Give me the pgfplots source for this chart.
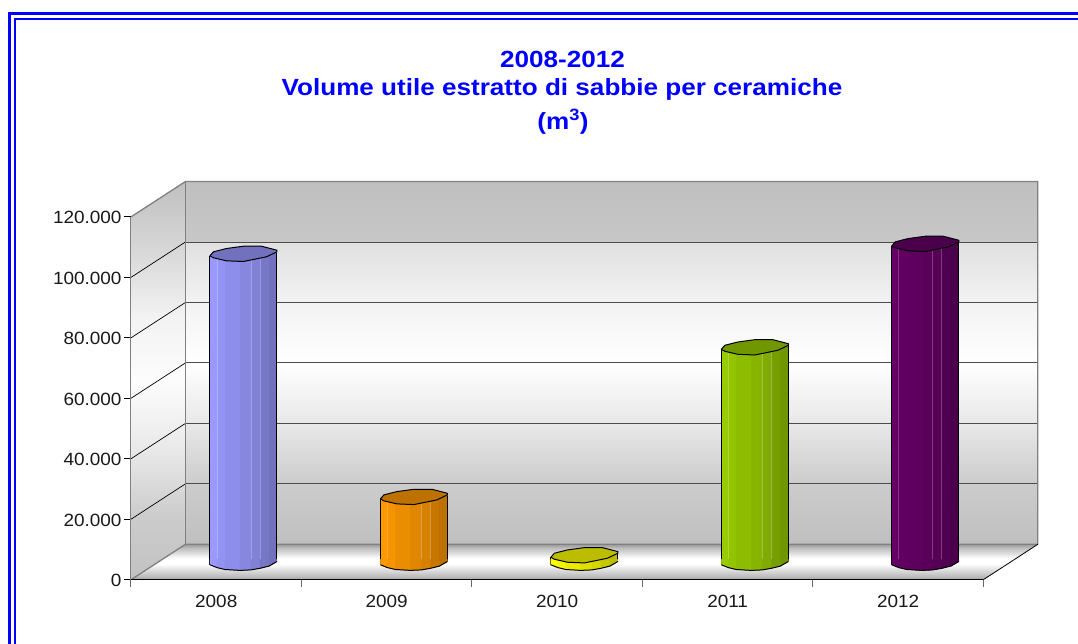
\documentclass[border=0pt]{standalone}
\usepackage{pgfplots}
\pgfplotsset{compat=1.18}
\usepackage{fontspec}
\setmainfont{Liberation Sans}
\newfontfamily\titlefont[FakeStretch=1.115]{Liberation Sans}
\newfontfamily\tickfont[FakeStretch=1.07]{Liberation Sans}
\definecolor{frameblue}{RGB}{0,0,255}
\definecolor{ca}{HTML}{9999FF}
\definecolor{cb}{HTML}{FF9900}
\definecolor{cc}{HTML}{FFFF00}
\definecolor{cd}{HTML}{99CC00}
\definecolor{ce}{HTML}{660066}
\pgfdeclareverticalshading{wallshade}{100bp}{%
 color(0bp)=(black!25); color(25bp)=(black!25); color(33.3bp)=(black!20);
 color(41.7bp)=(black!9); color(50bp)=(white); color(58.4bp)=(black!5);
 color(66.6bp)=(black!12); color(66.7bp)=(black!22); color(75bp)=(black!25); color(100bp)=(black!25)}
\pgfdeclareverticalshading{sideshade}{100bp}{%
 color(0bp)=(black!24); color(25bp)=(black!24); color(33bp)=(black!20);
 color(41bp)=(black!9); color(50bp)=(black!1); color(58bp)=(black!5);
 color(66bp)=(black!15); color(75bp)=(black!25); color(100bp)=(black!25)}
\pgfdeclareverticalshading{floorshade}{100bp}{%
 color(0bp)=(black!36); color(25bp)=(black!36); color(30bp)=(black!26); color(47.5bp)=(white); color(55bp)=(white);
 color(70bp)=(black!26); color(75bp)=(black!40); color(100bp)=(black!40)}
\newcommand{\capoutline}{(-33.5pt,-2.3pt) -- (-30pt,1.7pt) -- (-17pt,5pt) -- (0pt,7.3pt) -- (18pt,7.3pt) -- (33.5pt,3.3pt) -- (33.5pt,1.7pt) -- (23pt,-3.3pt) -- (0pt,-8pt) -- (-17pt,-7.3pt) -- (-30pt,-4.3pt) -- cycle}
\newcommand{\lowerhalf}{(-33.5pt,-2.3pt) -- (-26.5pt,-5.1pt) -- (-18.5pt,-7pt) -- (-3.5pt,-7.9pt) -- (7.5pt,-7.4pt) -- (16.5pt,-5.8pt) -- (25.5pt,-3.6pt) -- (33.5pt,1pt)}
\newcommand{\declcyl}[1]{%
 \pgfdeclareplotmark{captop#1}{\path[fill=#1!74!black,draw=black,line width=1pt,line join=round] \capoutline;}%
 \pgfdeclareplotmark{capbot#1}{%
  \fill[#1] (-33.5pt,-2.3pt) -- (-26.5pt,-5.1pt) -- (-26.2pt,-5.1pt) -- (-26.2pt,3pt) -- (-33.5pt,3pt) -- cycle;
  \fill[#1!96!black] (-26.5pt,-5.1pt) -- (-18.5pt,-7pt) -- (-18.2pt,-7pt) -- (-18.2pt,3pt) -- (-26.5pt,3pt) -- cycle;
  \fill[#1!92!black] (-18.5pt,-7pt) -- (-3.5pt,-7.9pt) -- (-3.2pt,-7.9pt) -- (-3.2pt,3pt) -- (-18.5pt,3pt) -- cycle;
  \fill[#1!88!black] (-3.5pt,-7.9pt) -- (7.5pt,-7.4pt) -- (7.8pt,-7.4pt) -- (7.8pt,3pt) -- (-3.5pt,3pt) -- cycle;
  \fill[#1!84!black] (7.5pt,-7.4pt) -- (16.5pt,-5.8pt) -- (16.8pt,-5.8pt) -- (16.8pt,3pt) -- (7.5pt,3pt) -- cycle;
  \fill[#1!78!black] (16.5pt,-5.8pt) -- (25.5pt,-3.6pt) -- (25.8pt,-3.6pt) -- (25.8pt,3pt) -- (16.5pt,3pt) -- cycle;
  \fill[#1!74!black] (25.5pt,-3.6pt) -- (33.5pt,1pt) -- (33.5pt,3pt) -- (25.5pt,3pt) -- cycle;
  \path[draw=black,line width=1pt,line join=round] \lowerhalf;}%
}
\declcyl{ca}\declcyl{cb}\declcyl{cc}\declcyl{cd}\declcyl{ce}
% one vertical strip of a cylinder: {x}{value}{colour}{xshift}{yshift}{width}
\newcommand{\strip}[6]{\addplot[ybar,bar shift=0pt,bar width=#6pt,xshift=#4pt,yshift=#5pt,fill=#3,draw=none] coordinates {(#1,#2)};}
% {x}{value}{colour}
\newcommand{\cyl}[3]{%
 \strip{#1}{#2}{#3}{-2.75}{15}{7.3}
 \strip{#1}{#2}{#3!96!black}{4.75}{15.5}{8.3}
 \strip{#1}{#2}{#3!92!black}{16.25}{16.4}{15.3}
 \strip{#1}{#2}{#3!88!black}{29.25}{17.35}{11.3}
 \strip{#1}{#2}{#3!84!black}{39.25}{18.1}{9.3}
 \strip{#1}{#2}{#3!78!black}{48.25}{18.8}{9.3}
 \strip{#1}{#2}{#3!74!black}{56.75}{19.4}{8.3}
 \strip{#1}{#2}{#3!80!white}{0.75}{15.5}{0.8}
 \strip{#1}{#2}{#3!84!black!75!white}{34.75}{17.8}{0.8}
 \strip{#1}{#2}{#3!78!black!75!white}{43.75}{18.4}{0.8}
 \addplot[only marks,mark=capbot#3,xshift=27.25pt,yshift=17.2pt] coordinates {(#1,0)};
 \addplot[black,line width=1pt,xshift=-6.25pt,yshift=14.9pt] coordinates {(#1,0) (#1,#2)};
 \addplot[black,line width=1pt,xshift=60.75pt,yshift=18.2pt] coordinates {(#1,0) (#1,#2)};
 \addplot[only marks,mark=captop#3,xshift=27.25pt,yshift=17.2pt] coordinates {(#1,#2)};
}
\begin{document}
\begin{tikzpicture}[x=1pt,y=1pt]
\begin{scope}[shift={(-131pt,579.7pt)}]
\useasboundingbox (0,0) rectangle (1078,-644);
\fill[white] (0,0) rectangle (1078,-644);
\draw[frameblue,line width=2.7pt] (1078,-13.5) -- (9.5,-13.5) -- (9.5,-644);
\draw[frameblue,line width=2.4pt] (1078,-18.8) -- (14.8,-18.8) -- (14.8,-644);
\node[anchor=base,text=frameblue,font=\fontsize{23.4pt}{26pt}\titlefont\bfseries] at (562.5,-67.7) {2008-2012};
\node[anchor=base,text=frameblue,font=\fontsize{23.4pt}{26pt}\titlefont\bfseries] at (562,-95.5) {Volume utile estratto di sabbie per ceramiche};
\node[anchor=base,text=frameblue,font=\fontsize{23.4pt}{26pt}\titlefont\bfseries] at (563,-129.3) {(m\textsuperscript{3})};
\end{scope}
\begin{axis}[
 at={(0pt,0pt)},anchor=south west,
 scale only axis,width=852.3pt,height=362.8pt,
 clip=false,
 xmin=-0.5,xmax=4.5,ymin=0,ymax=120000,
 axis x line=bottom,axis y line=left,
 axis line style={-,black,line width=1pt},
 xtick={-0.5,0.5,1.5,2.5,3.5,4.5},xticklabels={},
 extra x ticks={0,1,2,3,4},
 extra x tick labels={2008,2009,2010,2011,2012},
 extra x tick style={major tick length=0pt,tick style={draw=none}},
 ytick={0,20000,40000,60000,80000,100000,120000},
 scaled y ticks=false,
 major tick length=7pt,
 tick align=outside,
 xtick style={draw=black!60,line width=1pt},
 ytick style={draw=black,line width=0.8pt},
 tick label style={font=\fontsize{17.7pt}{20pt}\tickfont,text=black!90},
 xticklabel style={yshift=-12pt},
 yticklabel style={xshift=1pt,yshift=-1pt,/pgf/number format/.cd,assume math mode=true,1000 sep={.},fixed},
]
% walls
\path[shading=wallshade] (axis cs:-0.1803,11709) rectangle (axis cs:4.8197,131709);
\path[shading=sideshade] (axis cs:-0.5,0) -- (axis cs:-0.1803,11709) -- (axis cs:-0.1803,131709) -- (axis cs:-0.5,120000) -- cycle;
\path[shading=floorshade] (axis cs:-0.5,0) -- (axis cs:4.5,0) -- (axis cs:4.8197,11709) -- (axis cs:-0.1803,11709) -- cycle;
% grid on the walls
\draw[black!70,line width=0.9pt] (axis cs:-0.1803,31709) -- (axis cs:4.8197,31709);
\draw[black!70,line width=0.9pt] (axis cs:-0.1803,51709) -- (axis cs:4.8197,51709);
\draw[black!70,line width=0.9pt] (axis cs:-0.1803,71709) -- (axis cs:4.8197,71709);
\draw[black!70,line width=0.9pt] (axis cs:-0.1803,91709) -- (axis cs:4.8197,91709);
\draw[black!70,line width=0.9pt] (axis cs:-0.1803,111709) -- (axis cs:4.8197,111709);
\draw[black,line width=0.7pt] (axis cs:-0.5,20000) -- (axis cs:-0.1803,31709);
\draw[black,line width=0.7pt] (axis cs:-0.5,40000) -- (axis cs:-0.1803,51709);
\draw[black,line width=0.7pt] (axis cs:-0.5,60000) -- (axis cs:-0.1803,71709);
\draw[black,line width=0.7pt] (axis cs:-0.5,80000) -- (axis cs:-0.1803,91709);
\draw[black,line width=0.7pt] (axis cs:-0.5,100000) -- (axis cs:-0.1803,111709);
% wall edges
\draw[black!50,line width=1.3pt] (axis cs:-0.5,120000) -- (axis cs:-0.1803,131709) -- (axis cs:4.8197,131709) -- (axis cs:4.8197,11709) -- (axis cs:-0.1803,11709) -- (axis cs:-0.5,0);
\draw[black!50,line width=1.3pt] (axis cs:-0.1803,131709) -- (axis cs:-0.1803,11709);
\draw[black!50,line width=1pt] (axis cs:-0.5,0) -- (axis cs:-0.5,120000);
\draw[black,line width=0.8pt] (axis cs:4.5,0) -- (axis cs:4.8197,11709);
\draw[black,line width=1pt] (axis cs:-0.5,0) -- (axis cs:4.5,0);
% cylinders
\cyl{0}{102200}{ca}
\cyl{1}{21800}{cb}
\cyl{2}{2500}{cc}
\cyl{3}{71280}{cd}
\cyl{4}{105500}{ce}
\end{axis}
\end{tikzpicture}
\end{document}
